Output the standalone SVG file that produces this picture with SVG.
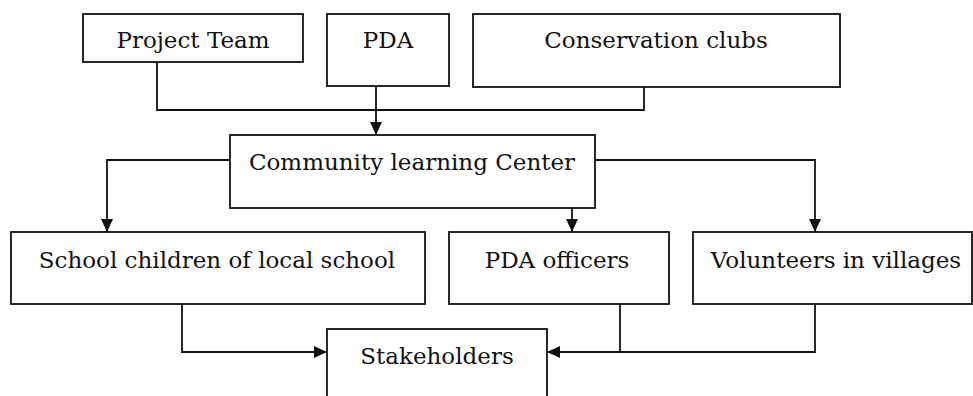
<svg xmlns="http://www.w3.org/2000/svg" width="973" height="396" viewBox="0 0 973 396">
<style>
.box{fill:#fff;stroke:#111;stroke-width:1.8}
.lbl{font-family:"DejaVu Serif","Liberation Serif",serif;font-size:23px;fill:#111;text-anchor:middle}
.con{fill:none;stroke:#111;stroke-width:1.8}
</style>
<defs>
<marker id="arr" markerUnits="userSpaceOnUse" markerWidth="14" markerHeight="12" refX="13" refY="6" orient="auto">
<path d="M0,0 L13,6 L0,12 Z" fill="#111"/>
</marker>
</defs>
<rect width="973" height="396" fill="#fff"/>
<g id="connectors">
<polyline class="con" points="157,62 157,110 644,110 644,87"/>
<line class="con" x1="376" y1="86" x2="376" y2="135" marker-end="url(#arr)"/>
<polyline class="con" points="230,160 107,160 107,232" marker-end="url(#arr)"/>
<line class="con" x1="572" y1="208" x2="572" y2="232" marker-end="url(#arr)"/>
<polyline class="con" points="595,160 815,160 815,232" marker-end="url(#arr)"/>
<polyline class="con" points="182,304 182,352 327,352" marker-end="url(#arr)"/>
<line class="con" x1="620" y1="304" x2="620" y2="352"/>
<polyline class="con" points="815,304 815,352 547,352" marker-end="url(#arr)"/>
</g>
<g id="project-team"><rect class="box" x="83" y="14" width="220" height="48"/><text class="lbl" x="193" y="48">Project Team</text></g>
<g id="pda"><rect class="box" x="327" y="14" width="122" height="72"/><text class="lbl" x="388" y="48">PDA</text></g>
<g id="conservation-clubs"><rect class="box" x="473" y="14" width="367" height="73"/><text class="lbl" x="656" y="48">Conservation clubs</text></g>
<g id="community-learning-center"><rect class="box" x="230" y="135" width="365" height="73"/><text class="lbl" x="412" y="170">Community learning Center</text></g>
<g id="school-children"><rect class="box" x="11" y="232" width="414" height="72"/><text class="lbl" x="217" y="268">School children of local school</text></g>
<g id="pda-officers"><rect class="box" x="449" y="232" width="220" height="72"/><text class="lbl" x="557" y="268">PDA officers</text></g>
<g id="volunteers"><rect class="box" x="693" y="232" width="279" height="72"/><text class="lbl" x="836" y="268">Volunteers in villages</text></g>
<g id="stakeholders"><rect class="box" x="327" y="329" width="220" height="80"/><text class="lbl" x="437" y="364">Stakeholders</text></g>
</svg>
